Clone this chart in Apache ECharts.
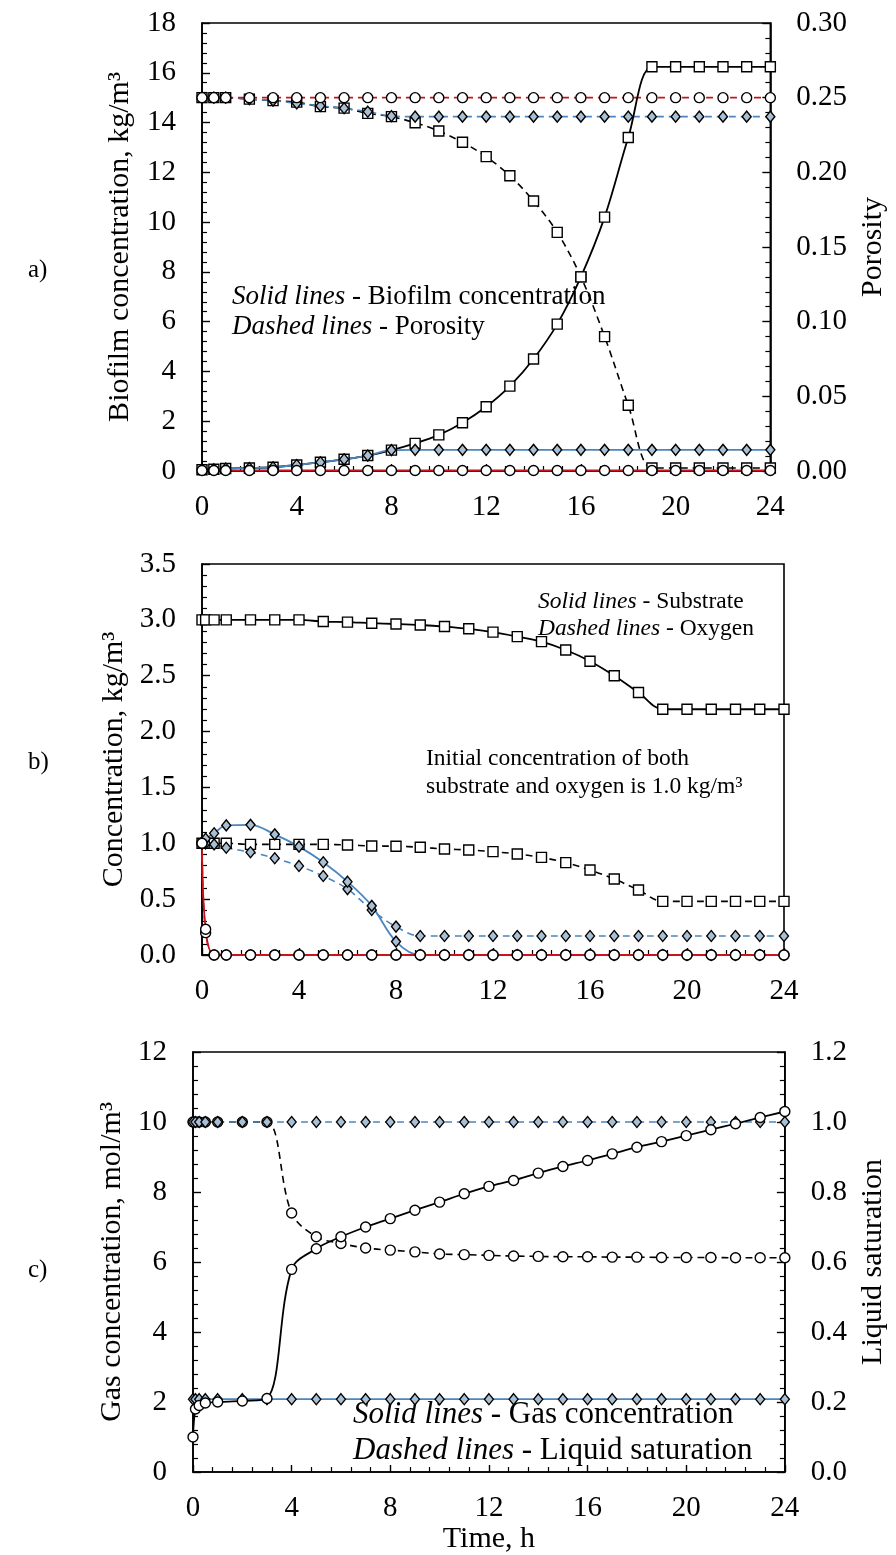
<!DOCTYPE html>
<html>
<head>
<meta charset="utf-8">
<script src="https://cdn.jsdelivr.net/npm/echarts@6/dist/echarts.min.js"></script>
<style>html,body{margin:0;padding:0;background:#fff}#c{width:896px;height:1555px}</style>
</head>
<body>
<div id="c"></div>
<script>
// ---------- Data ----------
const tA = [0,0.5,1,2,3,4,5,6,7,8,9,10,11,12,13,14,15,16,17,18,19,20,21,22,23,24];
const aBiofilmBlack = [0.05,0.07,0.1,0.12,0.15,0.24,0.35,0.47,0.62,0.84,1.11,1.45,1.94,2.58,3.41,4.5,5.9,7.8,10.2,13.4,16.24,16.24,16.24,16.24,16.24,16.24];
const aBiofilmBlue  = [0.05,0.07,0.1,0.12,0.15,0.24,0.35,0.47,0.62,0.84,0.85,0.85,0.85,0.85,0.85,0.85,0.85,0.85,0.85,0.85,0.85,0.85,0.85,0.85,0.85,0.85];
const aBiofilmRed   = [0.02,0.02,0.02,0.02,0.02,0.02,0.02,0.02,0.02,0.02,0.02,0.02,0.02,0.02,0.02,0.02,0.02,0.02,0.02,0.02,0.02,0.02,0.02,0.02,0.02,0.02];
const aPorosityBlack = [0.25,0.25,0.25,0.249,0.248,0.247,0.244,0.243,0.2395,0.2373,0.2332,0.2277,0.2201,0.2105,0.1977,0.1808,0.1598,0.130,0.09,0.044,0.002,0.002,0.002,0.002,0.002,0.002];
const aPorosityBlue  = [0.25,0.25,0.25,0.249,0.248,0.2462,0.2445,0.2429,0.2406,0.2377,0.2373,0.2373,0.2373,0.2373,0.2373,0.2373,0.2373,0.2373,0.2373,0.2373,0.2373,0.2373,0.2373,0.2373,0.2373,0.2373];
const aPorosityRed   = [0.25,0.25,0.25,0.25,0.25,0.25,0.25,0.25,0.25,0.25,0.25,0.25,0.25,0.25,0.25,0.25,0.25,0.25,0.25,0.25,0.25,0.25,0.25,0.25,0.25,0.25];

const tB = [0,0.15,0.5,1,2,3,4,5,6,7,8,9,10,11,12,13,14,15,16,17,18,19,20,21,22,23,24];
const bSubstrateBlack = [3,3,3,3,3,3,3,2.985,2.98,2.97,2.963,2.954,2.94,2.92,2.89,2.85,2.805,2.73,2.63,2.5,2.35,2.2,2.2,2.2,2.2,2.2,2.2];
const bOxygenBlack    = [1,1,1,1,0.99,0.99,0.99,0.99,0.985,0.976,0.974,0.964,0.949,0.94,0.925,0.904,0.874,0.827,0.761,0.68,0.582,0.48,0.48,0.48,0.48,0.48,0.48];
const bSubstrateBlue  = [1,1.04,1.09,1.16,1.165,1.08,0.97,0.83,0.656,0.44,0.12,0,0,0,0,0,0,0,0,0,0,0,0,0,0,0,0];
const bOxygenBlue     = [1,1,0.99,0.96,0.92,0.866,0.797,0.707,0.59,0.403,0.254,0.17,0.17,0.17,0.17,0.17,0.17,0.17,0.17,0.17,0.17,0.17,0.17,0.17,0.17,0.17,0.17];
const bSubstrateRed   = [1,0.23,0,0,0,0,0,0,0,0,0,0,0,0,0,0,0,0,0,0,0,0,0,0,0,0,0];
const bOxygenRed      = [1,0.2,0,0,0,0,0,0,0,0,0,0,0,0,0,0,0,0,0,0,0,0,0,0,0,0,0];

const tC = [0,0.1,0.25,0.5,1,2,3,4,5,6,7,8,9,10,11,12,13,14,15,16,17,18,19,20,21,22,23,24];
const cGasBlack = [1.0,1.8,1.9,1.97,2.0,2.03,2.1,5.79,6.38,6.72,7.0,7.24,7.48,7.71,7.95,8.16,8.33,8.54,8.73,8.9,9.09,9.28,9.44,9.61,9.78,9.95,10.13,10.3];
const cGasBlue  = [2.08,2.08,2.08,2.08,2.08,2.08,2.08,2.08,2.08,2.08,2.08,2.08,2.08,2.08,2.08,2.08,2.08,2.08,2.08,2.08,2.08,2.08,2.08,2.08,2.08,2.08,2.08,2.08];
const cSatBlack = [1,1,1,1,1,1,1,0.74,0.672,0.653,0.64,0.634,0.629,0.623,0.621,0.619,0.617,0.616,0.615,0.615,0.614,0.614,0.613,0.613,0.613,0.612,0.612,0.612];
const cSatBlue  = [1,1,1,1,1,1,1,1,1,1,1,1,1,1,1,1,1,1,1,1,1,1,1,1,1,1,1,1];

const xTitle = 'Time, h';

// ---------- Styling ----------
const FONT = 'Liberation Serif';
const BLACK = '#000000', BLUE = '#4a86c0', RED = '#c8141e';
const pairs = (t, v) => t.map((x, i) => [x, v[i]]);

function mk(t, v, xi, yi, color, dashed, sym, z) {
  const symbolMap = { sq: 'rect', ci: 'circle', di: 'diamond' };
  return {
    type: 'line', xAxisIndex: xi, yAxisIndex: yi,
    data: pairs(t, v), smooth: 0.35, z: z || 2,
    symbol: symbolMap[sym],
    symbolSize: sym === 'di' ? [9, 11] : 10,
    showAllSymbol: true,
    lineStyle: { color: color, width: dashed ? 1.6 : 1.8, type: dashed ? [7, 5] : 'solid' },
    itemStyle: { color: sym === 'di' ? '#a9bfd3' : '#ffffff', borderColor: '#000', borderWidth: 1.4 },
    emphasis: { disabled: true }, animation: false
  };
}

const labelStyle = { color: '#000', fontFamily: FONT, fontSize: 29 };
const nameStyle = { color: '#000', fontFamily: FONT, fontSize: 30 };

function xAx(gi, extra) {
  return Object.assign({
    type: 'value', gridIndex: gi, min: 0, max: 24, interval: 4,
    axisLine: { show: true, onZero: false, lineStyle: { color: '#000', width: 1.6 } },
    axisTick: { show: true, inside: true, length: 7, lineStyle: { color: '#000', width: 1.4 } },
    minorTick: { show: true, splitNumber: 5, length: 5, lineStyle: { color: '#000', width: 1.2 } },
    axisLabel: Object.assign({ margin: 22 }, labelStyle),
    splitLine: { show: false }
  }, extra || {});
}
function yAx(gi, min, max, interval, pos, dec, extra) {
  return Object.assign({
    type: 'value', gridIndex: gi, min: min, max: max, interval: interval, position: pos,
    axisLine: { show: true, onZero: false, lineStyle: { color: '#000', width: 1.6 } },
    axisTick: { show: true, inside: true, length: 8, lineStyle: { color: '#000', width: 1.4 } },
    minorTick: { show: true, splitNumber: 5, length: 5, lineStyle: { color: '#000', width: 1.2 } },
    axisLabel: Object.assign({ margin: 26, formatter: v => v.toFixed(dec) }, labelStyle),
    splitLine: { show: false },
    nameLocation: 'middle', nameTextStyle: nameStyle
  }, extra || {});
}

function txt(x, y, text, size) {
  return {
    type: 'text', x: x, y: y, silent: true,
    style: {
      text: text, fill: '#000', fontFamily: FONT, fontSize: size, verticalAlign: 'middle', align: 'left',
      rich: { i: { fontStyle: 'italic', fontFamily: FONT, fontSize: size, fill: '#000' },
              n: { fontFamily: FONT, fontSize: size, fill: '#000' } }
    }
  };
}

const chart = echarts.init(document.getElementById('c'), null, { renderer: 'canvas' });
chart.setOption({
  backgroundColor: '#fff',
  animation: false,
  grid: [
    { left: 202, top: 23, width: 576, height: 448, show: true, borderColor: '#000', borderWidth: 1.6, backgroundColor: 'transparent' },
    { left: 202, top: 564, width: 582, height: 391, show: true, borderColor: '#000', borderWidth: 1.6, backgroundColor: 'transparent' },
    { left: 193, top: 1052, width: 602, height: 421, show: true, borderColor: '#000', borderWidth: 1.6, backgroundColor: 'transparent' }
  ],
  xAxis: [
    xAx(0),
    xAx(1),
    xAx(2, { name: xTitle, nameLocation: 'middle', nameGap: 52, nameTextStyle: nameStyle })
  ],
  yAxis: [
    yAx(0, 0, 18, 2, 'left', 0, { name: 'Biofilm concentration, kg/m³', nameGap: 67, nameRotate: 90 }),
    yAx(0, 0, 0.3, 0.05, 'right', 2, { name: 'Porosity', nameGap: 86, nameRotate: 90 }),
    yAx(1, 0, 3.5, 0.5, 'left', 1, { name: 'Concentration, kg/m³', nameGap: 67, nameRotate: 90 }),
    yAx(2, 0, 12, 2, 'left', 0, { name: 'Gas concentration, mol/m³', nameGap: 58, nameRotate: 90 }),
    yAx(2, 0, 1.2, 0.2, 'right', 1, { name: 'Liquid saturation', nameGap: 70, nameRotate: 90 })
  ],
  series: [
    // panel a
    mk(tA, aPorosityBlack, 0, 1, BLACK, true, 'sq'),
    mk(tA, aPorosityBlue, 0, 1, BLUE, true, 'di'),
    mk(tA, aPorosityRed, 0, 1, RED, true, 'ci'),
    mk(tA, aBiofilmBlack, 0, 0, BLACK, false, 'sq'),
    mk(tA, aBiofilmBlue, 0, 0, BLUE, false, 'di'),
    mk(tA, aBiofilmRed, 0, 0, RED, false, 'ci'),
    // panel b
    mk(tB, bOxygenBlack, 1, 2, BLACK, true, 'sq'),
    mk(tB, bOxygenBlue, 1, 2, BLUE, true, 'di'),
    mk(tB, bSubstrateBlack, 1, 2, BLACK, false, 'sq'),
    mk(tB, bSubstrateBlue, 1, 2, BLUE, false, 'di'),
    mk(tB, bOxygenRed, 1, 2, RED, true, 'ci'),
    mk(tB, bSubstrateRed, 1, 2, RED, false, 'ci'),
    // panel c
    mk(tC, cSatBlack, 2, 4, BLACK, true, 'ci'),
    mk(tC, cSatBlue, 2, 4, BLUE, true, 'di'),
    mk(tC, cGasBlue, 2, 3, BLUE, false, 'di'),
    mk(tC, cGasBlack, 2, 3, BLACK, false, 'ci')
  ],
  graphic: [
    txt(28, 270, 'a)', 25),
    txt(28, 762, 'b)', 25),
    txt(28, 1270, 'c)', 25),
    txt(232, 297, '{i|Solid lines}{n| - Biofilm concentration}', 27),
    txt(232, 327, '{i|Dashed lines}{n| - Porosity}', 27),
    txt(538, 602, '{i|Solid lines}{n| - Substrate}', 23.5),
    txt(538, 629, '{i|Dashed lines}{n| - Oxygen}', 23.5),
    txt(426, 759, '{n|Initial concentration of both}', 23.5),
    txt(426, 787, '{n|substrate and oxygen is 1.0 kg/m³}', 23.5),
    txt(353, 1415, '{i|Solid lines}{n| - Gas concentration}', 31),
    txt(353, 1451, '{i|Dashed lines}{n| - Liquid saturation}', 31)
  ]
});
</script>
</body>
</html>
